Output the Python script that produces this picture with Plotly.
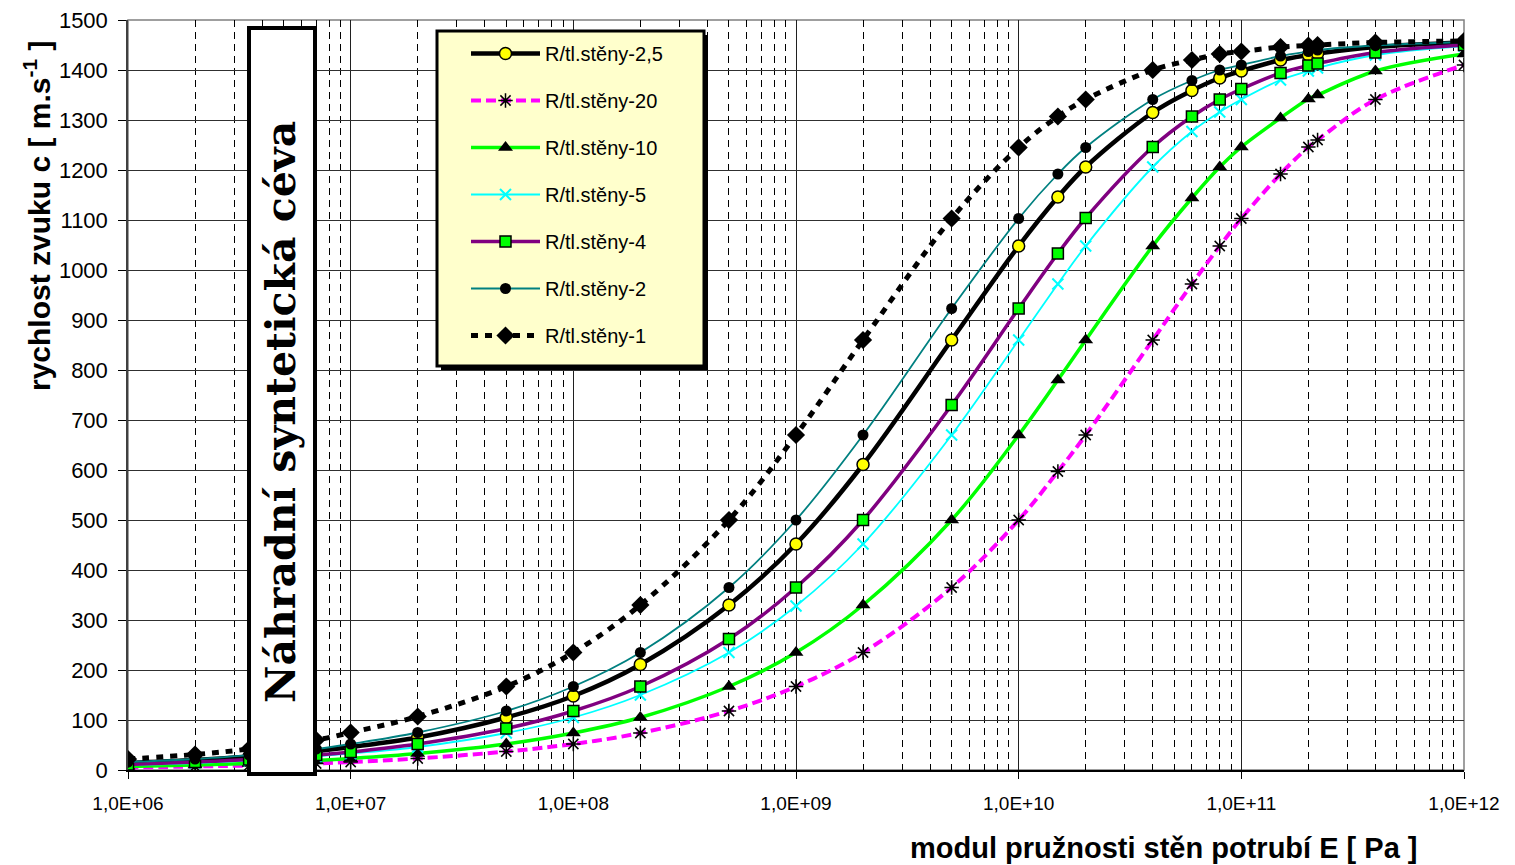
import plotly.graph_objects as go

# ---------------- data ----------------
E_PA = [1e6, 2e6, 3.5e6, 7e6, 1e7, 2e7, 5e7, 1e8, 2e8, 5e8, 1e9, 2e9, 5e9,
        1e10, 1.5e10, 2e10, 4e10, 6e10, 8e10, 1e11, 1.5e11, 2e11, 2.2e11, 4e11, 1e12]

C_R2_5 = [14, 20, 27, 38, 46, 65, 105, 148, 211, 330, 452, 611, 860,
          1048, 1146, 1206, 1315, 1359, 1384, 1398, 1420, 1430, 1433, 1446, 1455]
C_R20 = [5, 7, 9, 13, 16, 23, 37, 52, 74, 118, 167, 235, 365,
         500, 597, 670, 860, 972, 1048, 1103, 1192, 1246, 1260, 1341, 1410]
C_R10 = [7, 10, 13, 19, 23, 33, 52, 74, 105, 167, 235, 330, 500,
         670, 780, 860, 1048, 1144, 1206, 1246, 1304, 1342, 1350, 1398, 1432]
C_R5 = [10, 14, 19, 27, 33, 46, 74, 105, 150, 235, 328, 452, 670,
        860, 972, 1048, 1206, 1277, 1316, 1341, 1380, 1398, 1404, 1430, 1448]
C_R4 = [11, 16, 21, 30, 36, 52, 83, 118, 167, 262, 365, 500, 730,
        923, 1033, 1104, 1246, 1307, 1341, 1362, 1394, 1409, 1413, 1435, 1450]
C_R2 = [16, 22, 30, 42, 52, 75, 118, 167, 235, 365, 500, 670, 923,
        1103, 1192, 1245, 1341, 1379, 1400, 1410, 1428, 1437, 1440, 1449, 1456]
C_R1 = [22, 31, 42, 60, 75, 107, 167, 235, 330, 500, 670, 860, 1103,
        1245, 1307, 1341, 1400, 1420, 1432, 1437, 1446, 1449, 1450, 1455, 1458]

SERIES_NAMES = ["R/tl.stěny-2,5", "R/tl.stěny-20", "R/tl.stěny-10", "R/tl.stěny-5",
                "R/tl.stěny-4", "R/tl.stěny-2", "R/tl.stěny-1"]

X_TICK_VALS = [1e6, 1e7, 1e8, 1e9, 1e10, 1e11, 1e12]
X_TICK_TEXT = ["1,0E+06", "1,0E+07", "1,0E+08", "1,0E+09", "1,0E+10", "1,0E+11", "1,0E+12"]

# ---------------- figure ----------------
FONT = "Arial, Liberation Sans, sans-serif"
PAGE_OFF = 8                     # default body margin of the html page
W, H = 1515 - PAGE_OFF, 865 - PAGE_OFF
ML, MR, MT, MB = 120, 51, 12, 95
PW, PH = W - ML - MR, H - MT - MB
PLOT_LEFT = ML + PAGE_OFF        # page pixel of plot-area left edge
PLOT_BOTTOM = MT + PAGE_OFF + PH  # page pixel of plot-area bottom edge


def px(xp):
    return (xp - PLOT_LEFT) / PW


def py(yp):
    return (PLOT_BOTTOM - yp) / PH


styles = [
    dict(line=dict(color="black", width=4.5),
         marker=dict(symbol="circle", size=12, color="#FFFF00", line=dict(color="black", width=1.5))),
    dict(line=dict(color="#FF00FF", width=4, dash="10px,5px"),
         marker=dict(symbol="asterisk-open", size=12, color="black", line=dict(color="black", width=1.5))),
    dict(line=dict(color="#00FF00", width=3.5),
         marker=dict(symbol="triangle-up", size=13, color="black")),
    dict(line=dict(color="#00FFFF", width=1.8),
         marker=dict(symbol="x-thin-open", size=11, color="#00FFFF", line=dict(color="#00FFFF", width=2))),
    dict(line=dict(color="#800080", width=3.5),
         marker=dict(symbol="square", size=11, color="#00FF00", line=dict(color="black", width=1.5))),
    dict(line=dict(color="#008080", width=1.8),
         marker=dict(symbol="circle", size=11, color="black")),
    dict(line=dict(color="black", width=5, dash="7px,7px"),
         marker=dict(symbol="diamond", size=14, color="black")),
]
values = [C_R2_5, C_R20, C_R10, C_R5, C_R4, C_R2, C_R1]

fig = go.Figure()
for i, (name, vals, st) in enumerate(zip(SERIES_NAMES, values, styles)):
    line = dict(st["line"])
    line["shape"] = "spline"
    line["smoothing"] = 1.0
    fig.add_trace(go.Scatter(
        x=E_PA, y=vals, name=name, mode="lines+markers",
        line=line, marker=st["marker"], legendgroup=f"g{i}",
    ))

minor_vals = [m * 10 ** d for d in range(6, 12) for m in range(2, 10)]

fig.update_xaxes(
    type="log", range=[6, 12],
    tickvals=X_TICK_VALS, ticktext=X_TICK_TEXT,
    tickfont=dict(family=FONT, size=19, color="black"),
    ticks="outside", ticklen=7, tickcolor="black",
    showgrid=True, gridcolor="#202020", gridwidth=1,
    minor=dict(tickvals=minor_vals, showgrid=True, gridcolor="black", gridwidth=1,
               griddash="7px,5px", ticks=""),
    showline=True, linecolor="black", linewidth=1.5,
    zeroline=False, ticklabelstandoff=8,
)
fig.update_yaxes(
    range=[0, 1500], dtick=100, tick0=0,
    tickfont=dict(family=FONT, size=22, color="black"),
    ticks="outside", ticklen=8, tickcolor="black",
    showgrid=True, gridcolor="#303030", gridwidth=1,
    showline=True, linecolor="#404040", linewidth=1.5,
    zeroline=False, ticklabelstandoff=6, ticklabeloverflow="allow",
)

shapes = [
    # plot-area frame (top/right in grey)
    dict(type="rect", xref="paper", yref="paper", x0=0, x1=1, y0=0, y1=1,
         line=dict(color="#808080", width=1.5), layer="below"),
    # legend shadow and box
    dict(type="rect", xref="paper", yref="paper", x0=px(441), x1=px(708), y0=py(370), y1=py(35),
         fillcolor="black", line=dict(width=0), layer="above"),
    dict(type="rect", xref="paper", yref="paper", x0=px(437), x1=px(704), y0=py(366), y1=py(31),
         fillcolor="#FFFFCC", line=dict(color="black", width=3), layer="above"),
    # vertical label box
    dict(type="rect", xref="paper", yref="paper", x0=px(249), x1=px(315), y0=py(774), y1=py(28),
         fillcolor="white", line=dict(color="black", width=4), layer="above"),
]

annotations = [
    dict(text="<b>Náhradní syntetická céva</b>", xref="paper", yref="paper",
         x=px(281), y=py(412), textangle=-90, showarrow=False,
         font=dict(family="DejaVu Serif, serif", size=41, color="black"),
         xanchor="center", yanchor="middle"),
    dict(text="<b>modul pružnosti stěn potrubí E [ Pa ]</b>", xref="paper", yref="paper",
         x=px(1420), y=py(848), showarrow=False, xanchor="right", yanchor="middle",
         font=dict(family=FONT, size=29, color="black")),
    dict(text="<b>rychlost zvuku c [ m.s<sup>-1</sup> ]</b>", xref="paper", yref="paper",
         x=px(37), y=py(216), textangle=-90, showarrow=False, xanchor="center", yanchor="middle",
         font=dict(family=FONT, size=30, color="black")),
]

fig.update_layout(
    width=W, height=H,
    margin=dict(l=ML, r=MR, t=MT, b=MB, autoexpand=False),
    paper_bgcolor="white", plot_bgcolor="white",
    showlegend=True,
    legend=dict(x=px(466), y=py(34), xanchor="left", yanchor="top",
                bgcolor="rgba(0,0,0,0)", borderwidth=0,
                font=dict(family=FONT, size=20, color="black"),
                itemwidth=69, tracegroupgap=18, traceorder="grouped"),
    shapes=shapes, annotations=annotations,
)

fig.write_html("out.html")
